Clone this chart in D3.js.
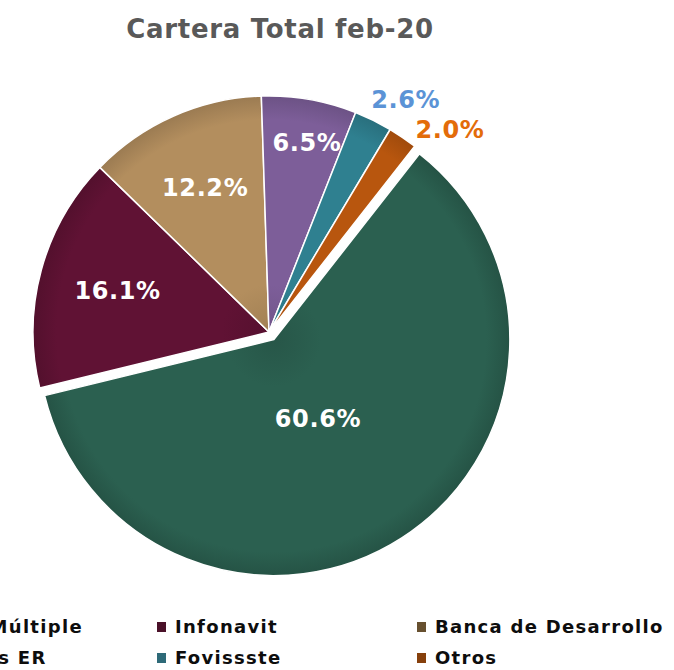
<!DOCTYPE html>
<html><head><meta charset="utf-8">
<script src="https://cdn.jsdelivr.net/npm/d3@7"></script>
<style>html,body{margin:0;padding:0;background:#fff;}svg{display:block;}</style>
</head><body>
<svg id="chart" width="674" height="670"></svg>
<script>
const categories = ["Banca Múltiple", "Infonavit", "Banca de Desarrollo", "Sofomes ER", "Fovissste", "Otros"];
const values = [60.6, 16.1, 12.2, 6.5, 2.6, 2.0];
const labels = ["60.6%", "16.1%", "12.2%", "6.5%", "2.6%", "2.0%"];
const sliceColors = ["#2B6050", "#601234", "#B38E5E", "#7D5E99", "#2F8090", "#B8560E"];
const legendColors = ["#23503F", "#4A1129", "#67502F", "#5E4A78", "#2E6A78", "#86400C"];
const labelColors = ["#ffffff", "#ffffff", "#ffffff", "#ffffff", "#5B93D6", "#E36C0A"];
// label placement: [radius, angle shift in degrees]
const labelPlace = [[90, 3.5], [157, 0], [158, 0], [193, 1.5], [270, 4.2], [272, 7.2]];
const explode = [9, 0, 0, 0, 0, 0];

const FONT = "'DejaVu Sans', Verdana, sans-serif";
const svg = d3.select("#chart");
const cx = 269, cy = 332, R = 236;
const startDeg = 38.1;
const rad = d => d * Math.PI / 180;

svg.append("text").attr("x", 280).attr("y", 38).attr("text-anchor", "middle")
  .attr("font-family", FONT).attr("font-weight", 700).attr("letter-spacing", 0.7)
  .attr("font-size", 26).attr("fill", "#595959").text("Cartera Total feb-20");

const defs = svg.append("defs");
sliceColors.forEach((c, i) => {
  const g = defs.append("radialGradient").attr("id", "grad" + i)
    .attr("gradientUnits", "userSpaceOnUse").attr("cx", 0).attr("cy", 0).attr("r", R);
  const base = d3.color(c);
  g.append("stop").attr("offset", "0%").attr("stop-color", base.darker(0.3));
  g.append("stop").attr("offset", "20%").attr("stop-color", base);
  g.append("stop").attr("offset", "90%").attr("stop-color", base);
  g.append("stop").attr("offset", "100%").attr("stop-color", base.darker(0.4));
});

const pie = d3.pie().sort(null).value(d => d)
  .startAngle(rad(startDeg)).endAngle(rad(startDeg + 360));
const arcs = pie(values);
const arc = d3.arc().innerRadius(0).outerRadius(R);

const g = svg.append("g");
arcs.forEach((a, i) => {
  const mid = (a.startAngle + a.endAngle) / 2;
  const ox = cx + explode[i] * Math.sin(mid), oy = cy - explode[i] * Math.cos(mid);
  const sg = g.append("g").attr("transform", `translate(${ox},${oy})`);
  sg.append("path").attr("d", arc(a)).attr("fill", `url(#grad${i})`)
    .attr("stroke", "#ffffff").attr("stroke-width", 1.5).attr("stroke-linejoin", "round");
});

arcs.forEach((a, i) => {
  const mid = (a.startAngle + a.endAngle) / 2 + rad(labelPlace[i][1]);
  const ox = cx + explode[i] * Math.sin((a.startAngle + a.endAngle) / 2);
  const oy = cy - explode[i] * Math.cos((a.startAngle + a.endAngle) / 2);
  const r = labelPlace[i][0];
  svg.append("text").attr("x", ox + r * Math.sin(mid)).attr("y", oy - r * Math.cos(mid))
    .attr("dy", "0.36em").attr("text-anchor", "middle").attr("letter-spacing", 0.6)
    .attr("font-family", FONT).attr("font-weight", 700)
    .attr("font-size", 24).attr("fill", labelColors[i]).text(labels[i]);
});

// legend
const colX = d3.scaleOrdinal().domain([0, 1, 2]).range([-104, 157, 417]);
const rowY = d3.scaleOrdinal().domain([0, 1]).range([627, 658]);
categories.forEach((c, i) => {
  const col = i % 3, row = Math.floor(i / 3);
  const x = colX(col), y = rowY(row);
  svg.append("rect").attr("x", x).attr("y", y - 5).attr("width", 9).attr("height", 10)
    .attr("fill", legendColors[i]);
  svg.append("text").attr("x", x + 18).attr("y", y).attr("dy", "0.36em")
    .attr("font-family", FONT).attr("font-weight", 700).attr("letter-spacing", 1.3)
    .attr("font-size", 18).attr("fill", "#0d0d0d").text(c);
});
</script>
</body></html>
